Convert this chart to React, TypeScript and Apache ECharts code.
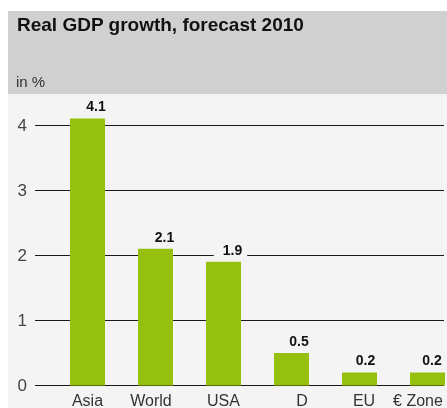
import React, { useEffect, useRef } from "react";
import * as echarts from "echarts";

const categories = ["Asia", "World", "USA", "D", "EU", "€ Zone"];
const values = [4.1, 2.1, 1.9, 0.5, 0.2, 0.2];
const yTicks = [0, 1, 2, 3, 4];
const titleText = "Real GDP growth, forecast 2010";
const unitText = "in %";
// horizontal nudges of category labels (left/right padding)
const labelPads = [
  [0, 0, 0, 0],
  [0, 9, 0, 0],
  [0, 0, 0, 0],
  [0, 0, 0, 21],
  [0, 0, 0, 9],
  [0, 19, 0, 0],
];
// horizontal nudges of value labels
const valueLabelShift = [6.5, 7, 7, 5.5, 4, 2.5];

const FONT = "'Liberation Sans', Arial, Helvetica, sans-serif";

export default function App() {
  const ref = useRef<HTMLDivElement>(null);
  useEffect(() => {
    if (!ref.current) return;
    const chart = echarts.init(ref.current, null, { renderer: "svg" });
    const top = 125;
    const bottom = 408 - 385.5;
    chart.setOption({
      animation: false,
      textStyle: { fontFamily: FONT },
      graphic: [
        { type: "rect", z: -10, silent: true, shape: { x: 8, y: 11, width: 439, height: 83 }, style: { fill: "#d0d0d0" } },
        { type: "rect", z: -10, silent: true, shape: { x: 8, y: 94, width: 439, height: 314 }, style: { fill: "#f4f4f4" } },
        {
          type: "text", x: 17, y: 24.5, z: 10,
          style: { text: titleText, font: `bold 19px ${FONT}`, fill: "#111", verticalAlign: "middle" },
        },
        {
          type: "text", x: 16, y: 81.5, z: 10,
          style: { text: unitText, font: `15px ${FONT}`, fill: "#333", verticalAlign: "middle" },
        },
      ],
      grid: [
        { left: 35, right: 3, top, bottom, outerBoundsMode: "none", containLabel: false },
        { left: 53.5, right: -14.5, top, bottom, outerBoundsMode: "none", containLabel: false },
      ],
      xAxis: [
        { gridIndex: 0, type: "category", data: categories, show: false },
        {
          gridIndex: 1,
          type: "category",
          data: categories.map((c, i) => ({ value: c, textStyle: { padding: labelPads[i] } })),
          axisLine: { show: false },
          axisTick: { show: false },
          axisLabel: { fontSize: 16, color: "#333", margin: 7, fontFamily: FONT },
        },
      ],
      yAxis: [
        {
          gridIndex: 0,
          type: "value",
          min: yTicks[0],
          max: yTicks[yTicks.length - 1],
          interval: 1,
          axisLine: { show: false },
          axisTick: { show: false },
          splitLine: { show: true, lineStyle: { color: "#1a1a1a", width: 1 } },
          axisLabel: {
            fontSize: 17,
            color: "#444",
            margin: 8,
            padding: [0, 0, 8, 0],
            fontFamily: FONT,
          },
        },
        { gridIndex: 1, type: "value", min: 0, max: 4, interval: 1, show: false, splitLine: { show: false } },
      ],
      series: [
        {
          type: "bar",
          xAxisIndex: 1,
          yAxisIndex: 1,
          data: values.map((v, i) => ({ value: v, label: { offset: [valueLabelShift[i], 0] } })),
          barWidth: 35,
          clip: false,
          itemStyle: { color: "#95c00e" },
          label: {
            show: true,
            position: "top",
            distance: 3,
            fontSize: 14,
            fontWeight: "bold",
            color: "#111",
            fontFamily: FONT,
            backgroundColor: "#f4f4f4",
            padding: [2, 5, 2, 9],
            formatter: (p: any) => p.value.toFixed(1),
          },
        },
      ],
    });
    return () => chart.dispose();
  }, []);
  return (
    <div
      ref={ref}
      style={{ position: "fixed", left: 0, top: 0, width: 447, height: 408 }}
    />
  );
}
